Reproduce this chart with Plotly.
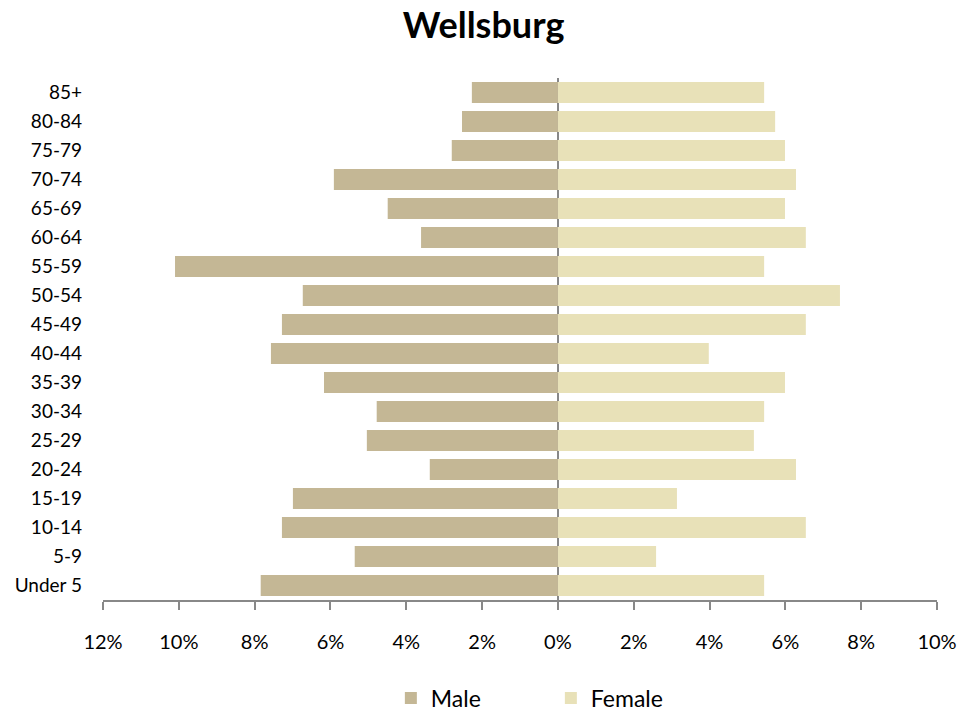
import plotly.graph_objects as go

ages = ["Under 5", "5-9", "10-14", "15-19", "20-24", "25-29", "30-34", "35-39",
        "40-44", "45-49", "50-54", "55-59", "60-64", "65-69", "70-74", "75-79",
        "80-84", "85+"]
male = [7.84, 5.36, 7.28, 6.99, 3.38, 5.04, 4.78, 6.17, 7.57, 7.28, 6.73, 10.1,
        3.61, 4.49, 5.91, 2.80, 2.53, 2.27]
female = [5.44, 2.59, 6.54, 3.14, 6.28, 5.17, 5.44, 5.99, 3.98, 6.54, 7.44, 5.44,
          6.54, 5.99, 6.28, 5.99, 5.73, 5.44]
tick_vals = [-12, -10, -8, -6, -4, -2, 0, 2, 4, 6, 8, 10]
tick_text = ["12%", "10%", "8%", "6%", "4%", "2%", "0%", "2%", "4%", "6%", "8%", "10%"]

FONT = "Lato, Open Sans, sans-serif"

fig = go.Figure()
fig.add_trace(go.Bar(y=ages, x=[-v for v in male], orientation="h", name="Male",
                     marker=dict(color="#C4B795", line=dict(width=0))))
fig.add_trace(go.Bar(y=ages, x=female, orientation="h", name="Female",
                     marker=dict(color="#E8E1B8", line=dict(width=0))))

fig.update_layout(
    width=979, height=713,
    barmode="overlay", bargap=0.27,
    plot_bgcolor="white", paper_bgcolor="white",
    margin=dict(l=103, r=42, t=78, b=113, autoexpand=False),
    font=dict(family=FONT, size=18, color="#000000"),
    title=dict(text="<b>Wellsburg</b>", x=0.494, xanchor="center", y=0.965, yanchor="middle",
               font=dict(family=FONT, size=36, color="#000000")),
    showlegend=True,
    legend=dict(orientation="h", x=0.537, xanchor="center", y=-0.188, yanchor="middle",
                font=dict(size=23), entrywidth=115, itemwidth=30),
    xaxis=dict(range=[-12, 10], tickvals=tick_vals, ticktext=tick_text,
               showgrid=False, zeroline=True, zerolinecolor="#888888", zerolinewidth=1.5,
               showline=True, linecolor="#888888", linewidth=1.5,
               ticks="outside", ticklen=8, tickcolor="#888888", tickwidth=1.5,
               ticklabelstandoff=15, tickfont=dict(size=20)),
    yaxis=dict(showgrid=False, zeroline=False, showline=False, ticks="",
               ticklabelstandoff=20, tickfont=dict(size=19),
               range=[-0.5, 17.5]),
)

fig.write_html("out.html", config={"displayModeBar": False},
               post_script="document.body.style.margin='0px';")
